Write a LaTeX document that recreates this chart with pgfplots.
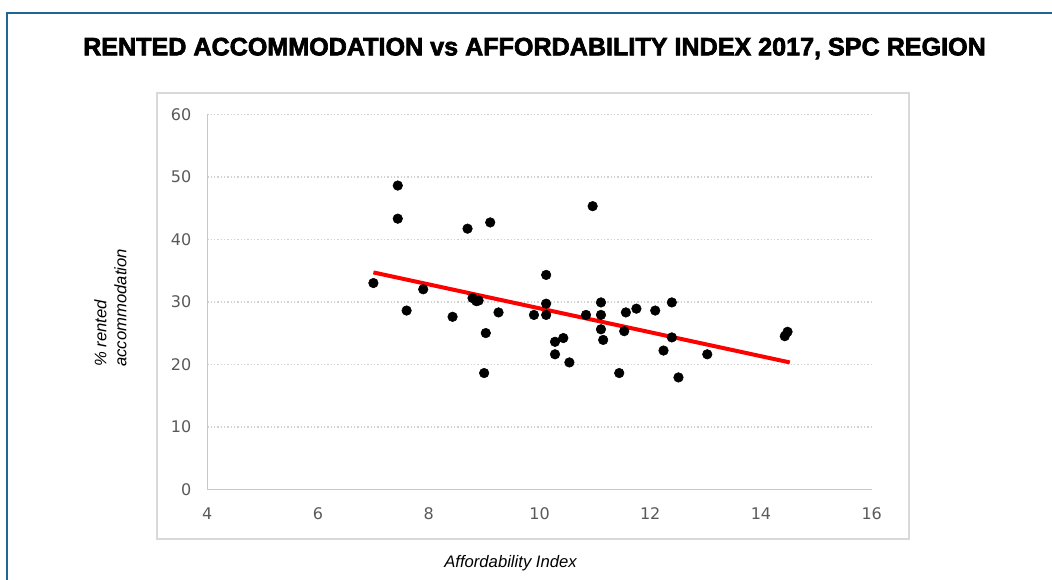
\documentclass[border=0pt]{standalone}
\usepackage{fontspec}
\usepackage{pgfplots}
\pgfplotsset{compat=1.18}
\setmainfont{Liberation Sans}
\newfontfamily\tickfont{DejaVu Sans}
\newfontfamily\titlefont[FakeBold=2.6]{Liberation Sans Bold}
\definecolor{frameblue}{RGB}{31,103,145}
\definecolor{boxgray}{RGB}{217,217,217}
\definecolor{gridgray}{RGB}{210,210,210}
\definecolor{axgray}{RGB}{200,200,200}
\definecolor{ticktext}{RGB}{89,89,89}
\begin{document}
\begin{tikzpicture}[x=0.75pt,y=0.75pt]
\path[use as bounding box] (0,0) rectangle (1052,579);
% outer frame (top and left visible)
\draw[frameblue, line width=2pt] (7,-5) -- (7,566) -- (1060,566);
% inner chart box
\draw[boxgray, line width=1.2pt] (157,40) rectangle (909,486);
% title
\node at (534.5,530.5) {\resizebox{677pt}{!}{\titlefont\fontsize{16pt}{18pt}\selectfont RENTED ACCOMMODATION vs AFFORDABILITY INDEX 2017, SPC REGION}};
% axis labels
\node[font=\fontsize{12.5pt}{15pt}\selectfont\itshape] at (510.5,16) {Affordability Index};
\node[rotate=90, anchor=west, align=left, inner sep=0pt, font=\fontsize{12.5pt}{15pt}\selectfont\itshape] at (110.5,212) {\% rented\\accommodation};
\begin{axis}[
  at={(155.475pt,67.275pt)}, anchor=south west,
  width=498.3pt, height=281.25pt, scale only axis,
  xmin=4, xmax=16, ymin=0, ymax=60,
  xtick={4,6,...,16}, ytick={0,10,...,60},
  axis x line=bottom, axis y line=left,
  axis line style={axgray, line width=1.2pt, -},
  major tick length=0pt,
  ymajorgrids,
  major grid style={gridgray, line width=1.1pt, dash pattern=on 1.1pt off 1.4pt},
  tick label style={font=\tickfont\fontsize{12pt}{14pt}\selectfont, text=ticktext},
  /pgf/number format/assume math mode=true,
  yticklabel style={xshift=-8.5pt},
  xticklabel style={yshift=-10.5pt},
  clip=false,
]
\addplot[red, line width=3pt, no marks] coordinates {(7.0,34.7) (14.52,20.3)};
\addplot[only marks, mark=*, mark size=3.6pt, black] coordinates {
(7.0,33.0) (7.44,48.6) (7.44,43.3) (7.60,28.6) (7.90,32.0) (8.43,27.6)
(8.70,41.7) (9.11,42.7) (8.79,30.6) (8.86,30.1) (8.90,30.2) (9.26,28.3)
(9.03,25.0) (9.00,18.6) (9.90,27.9) (10.12,34.3) (10.12,29.7) (10.12,27.9)
(10.96,45.3) (10.28,23.6) (10.43,24.2) (10.28,21.6) (10.54,20.3) (10.84,27.9)
(11.11,29.9) (11.11,27.9) (11.11,25.6) (11.15,23.9) (11.44,18.6) (11.53,25.3)
(11.56,28.3) (11.75,28.9) (12.09,28.6) (12.39,29.9) (12.39,24.3) (12.24,22.2)
(12.51,17.9) (13.03,21.6) (14.43,24.5) (14.48,25.2)
};
\end{axis}
\end{tikzpicture}
\end{document}
